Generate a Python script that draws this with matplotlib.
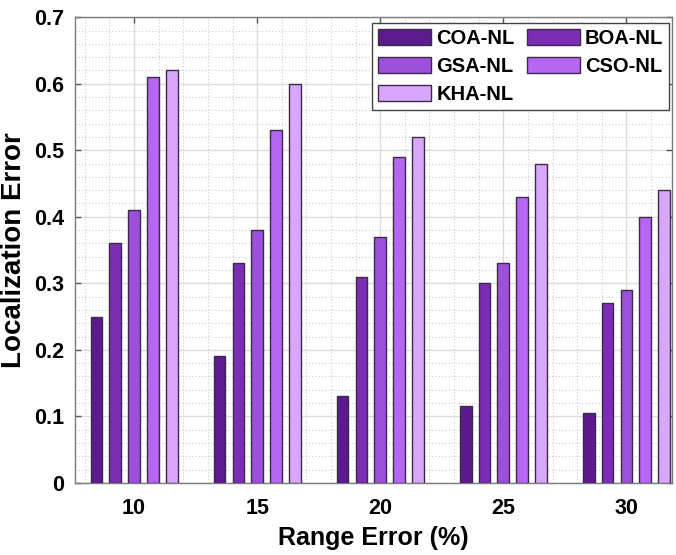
import numpy as np
import matplotlib
matplotlib.use('Agg')
import matplotlib.pyplot as plt
from matplotlib.ticker import MultipleLocator

plt.rcParams['font.family'] = ['Liberation Sans', 'DejaVu Sans']
plt.rcParams['font.weight'] = 'bold'

range_error = ['10', '15', '20', '25', '30']
methods = ['COA-NL', 'BOA-NL', 'GSA-NL', 'CSO-NL', 'KHA-NL']
coa = [0.25, 0.19, 0.13, 0.115, 0.105]
boa = [0.36, 0.33, 0.31, 0.30, 0.27]
gsa = [0.41, 0.38, 0.37, 0.33, 0.29]
cso = [0.61, 0.53, 0.49, 0.43, 0.40]
kha = [0.62, 0.60, 0.52, 0.48, 0.44]
colors = ['#5c1a8e', '#7b2db6', '#9c50dc', '#b566f2', '#d8a6fb']

fig = plt.figure(figsize=(6.76, 5.55), dpi=100)
ax = fig.add_axes([0.111, 0.130, 0.883, 0.839])

idx = np.arange(1, len(range_error) + 1)
step = 0.153
width = 0.095
bars = []
for i, (vals, name) in enumerate(zip([coa, boa, gsa, cso, kha], methods)):
    b = ax.bar(idx + (i - 2) * step, vals, width, color=colors[i],
               edgecolor='#3a2a45', linewidth=1.0, label=name, zorder=3)
    bars.append(b)

ax.set_xlim(0.52, 5.37)
ax.set_ylim(0, 0.7)
ax.set_xticks(idx)
ax.set_xticklabels(range_error)
yt = np.arange(0, 0.71, 0.1)
ax.set_yticks(yt)
ax.set_yticklabels(['0'] + ['%.1f' % v for v in yt[1:]])
ax.xaxis.set_minor_locator(MultipleLocator(0.2))
ax.yaxis.set_minor_locator(MultipleLocator(0.02))

ax.grid(which='major', color='#dcdcdc', linewidth=1.0, linestyle='-', zorder=0)
ax.grid(which='minor', color='#cccccc', linewidth=0.8, linestyle=(0, (1, 2)), zorder=0)
ax.set_axisbelow(True)

ax.tick_params(which='major', direction='in', length=4, width=1, color='#555555',
               top=True, right=True, labelsize=15.5)
ax.tick_params(axis='x', pad=11)
ax.tick_params(axis='y', pad=8)
ax.tick_params(which='minor', length=0)
for s in ax.spines.values():
    s.set_color('#7a7a7a')
    s.set_linewidth(1.0)

ax.set_xlabel('Range Error (%)', fontsize=18, fontweight='bold', labelpad=5)
ax.set_ylabel('Localization Error', fontsize=20, fontweight='bold', labelpad=5)

# row-major order for the two-column legend
order = [0, 2, 4, 1, 3]
leg = ax.legend([bars[k] for k in order], [methods[k] for k in order],
                ncol=2, loc='upper right', bbox_to_anchor=(0.9955, 0.987),
                fontsize=14.5, frameon=True, fancybox=False, framealpha=1,
                edgecolor='#444444', handlelength=2.65, handleheight=0.85,
                columnspacing=0.6, handletextpad=0.25, labelspacing=0.45,
                borderpad=0.3, borderaxespad=0)
leg.get_frame().set_linewidth(1.0)

plt.savefig('out.png', dpi=100)
